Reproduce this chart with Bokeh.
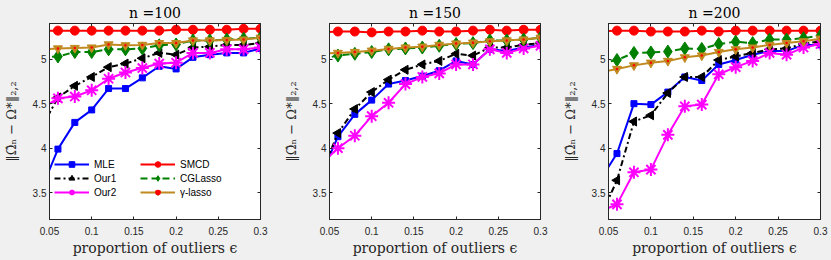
import math
from bokeh.plotting import figure
from bokeh.layouts import row
from bokeh.models import FixedTicker, LinearAxis, Range1d, Legend, LegendItem
from bokeh.embed import file_html
from bokeh.resources import INLINE

# ---------------- data ----------------
eps = [0.04, 0.06, 0.08, 0.10, 0.12, 0.14, 0.16, 0.18, 0.20, 0.22, 0.24, 0.26, 0.28, 0.30]
x_ticks = [0.05, 0.1, 0.15, 0.2, 0.25, 0.3]
x_tick_labels = ["0.05", "0.1", "0.15", "0.2", "0.25", "0.3"]
y_ticks = [3.5, 4, 4.5, 5]
y_tick_labels = ["3.5", "4", "4.5", "5"]
sample_sizes = ["100", "150", "200"]
methods = ["MLE", "Our1", "Our2", "SMCD", "CGLasso", "γ-lasso"]

mle_100 = [3.53, 3.99, 4.29, 4.43, 4.67, 4.67, 4.79, 4.92, 4.89, 5.02, 5.05, 5.07, 5.07, 5.12]
our1_100 = [4.22, 4.57, 4.70, 4.80, 4.91, 4.95, 5.01, 5.07, 5.05, 5.13, 5.14, 5.16, 5.16, 5.18]
our2_100 = [4.44, 4.56, 4.58, 4.65, 4.78, 4.85, 4.90, 4.95, 4.96, 5.07, 5.07, 5.11, 5.11, 5.13]
smcd_100 = [5.32, 5.32, 5.32, 5.32, 5.32, 5.32, 5.32, 5.32, 5.33, 5.33, 5.33, 5.33, 5.34, 5.34]
cgl_100 = [5.02, 5.03, 5.08, 5.08, 5.11, 5.11, 5.12, 5.155, 5.165, 5.21, 5.21, 5.22, 5.23, 5.24]
gam_100 = [5.11, 5.12, 5.125, 5.13, 5.165, 5.155, 5.16, 5.18, 5.18, 5.21, 5.21, 5.215, 5.22, 5.24]

mle_150 = [3.70, 4.13, 4.38, 4.54, 4.72, 4.76, 4.81, 4.87, 4.98, 4.94, 5.11, 5.09, 5.13, 5.16]
our1_150 = [3.71, 4.17, 4.44, 4.63, 4.77, 4.88, 4.94, 4.98, 5.06, 5.04, 5.13, 5.13, 5.16, 5.18]
our2_150 = [3.82, 4.00, 4.14, 4.36, 4.51, 4.72, 4.80, 4.84, 4.94, 4.94, 5.11, 5.07, 5.12, 5.15]
smcd_150 = [5.30, 5.31, 5.31, 5.30, 5.31, 5.31, 5.32, 5.31, 5.31, 5.32, 5.33, 5.32, 5.33, 5.33]
cgl_150 = [5.00, 5.04, 5.06, 5.08, 5.11, 5.12, 5.13, 5.15, 5.17, 5.18, 5.21, 5.21, 5.22, 5.24]
gam_150 = [5.06, 5.07, 5.08, 5.095, 5.115, 5.13, 5.14, 5.16, 5.175, 5.185, 5.20, 5.21, 5.22, 5.24]

mle_200 = [3.64, 3.94, 4.50, 4.49, 4.63, 4.80, 4.76, 4.94, 4.99, 5.05, 5.09, 5.09, 5.16, 5.16]
our1_200 = [3.22, 3.64, 4.30, 4.37, 4.62, 4.80, 4.80, 4.99, 5.03, 5.07, 5.11, 5.12, 5.17, 5.20]
our2_200 = [3.29, 3.37, 3.73, 3.76, 4.15, 4.47, 4.49, 4.83, 4.91, 4.98, 5.07, 5.05, 5.13, 5.17]
smcd_200 = [5.31, 5.32, 5.32, 5.31, 5.31, 5.31, 5.32, 5.31, 5.32, 5.32, 5.32, 5.32, 5.32, 5.32]
cgl_200 = [4.95, 4.99, 5.07, 5.075, 5.085, 5.12, 5.115, 5.17, 5.195, 5.18, 5.22, 5.22, 5.235, 5.265]
gam_200 = [4.85, 4.89, 4.93, 4.96, 4.98, 5.02, 5.04, 5.08, 5.11, 5.13, 5.16, 5.18, 5.20, 5.23]

panel_series = [
    [mle_100, our1_100, our2_100, smcd_100, cgl_100, gam_100],
    [mle_150, our1_150, our2_150, smcd_150, cgl_150, gam_150],
    [mle_200, our1_200, our2_200, smcd_200, cgl_200, gam_200],
]

# ---------------- styles ----------------
AX = "#262626"
styles = {
    "MLE": dict(color="#0000ff", dash="solid", marker="square", size=6, angle=0.0, lw=1),
    "Our1": dict(color="#000000", dash="6 3 2 3", marker="triangle", size=9, angle=math.pi / 2, lw=1),
    "Our2": dict(color="#ff00ff", dash="solid", marker="asterisk", size=13, angle=0.0, lw=2),
    "SMCD": dict(color="#ff0000", dash="solid", marker="circle", size=9, angle=0.0, lw=1),
    "CGLasso": dict(color="#008000", dash="7 4", marker="diamond", size=13, angle=0.0, lw=1),
    "γ-lasso": dict(color="#c08a20", dash="solid", marker="inverted_triangle", size=9, angle=0.0, lw=1),
}

widths = [280, 279, 272]
lefts = [47, 47, 48]
rights = [20, 19, 11]


def style_axis(ax, ticks, labels, show_labels=True):
    ax.ticker = FixedTicker(ticks=ticks, minor_ticks=[])
    ax.major_tick_in = 3
    ax.major_tick_out = 0
    ax.minor_tick_line_color = None
    ax.axis_line_color = AX
    ax.major_tick_line_color = AX
    if show_labels:
        ax.major_label_overrides = {t: l for t, l in zip(ticks, labels)}
        ax.major_label_text_color = AX
        ax.major_label_text_font = "Liberation Sans"
        ax.major_label_text_font_size = "10px"
    else:
        ax.major_label_text_color = None
        ax.major_label_text_font_size = "0px"
        ax.major_label_standoff = 0


plots = []
for i, n in enumerate(sample_sizes):
    p = figure(width=widths[i], height=260,
               x_range=Range1d(0.05, 0.3), y_range=Range1d(3.2, 5.4),
               output_backend="svg", toolbar_location=None,
               min_border_left=lefts[i], min_border_right=rights[i],
               min_border_top=22, min_border_bottom=41)
    p.title.text = "n =" + n
    p.title.text_font = "DejaVu Serif"
    p.title.text_font_style = "normal"
    p.title.text_font_size = "14px"
    p.title.text_color = "#000000"
    p.title.align = "center"
    p.title.standoff = 5
    p.border_fill_color = "#f0f0f0"
    p.background_fill_color = "white"
    p.outline_line_color = AX
    p.outline_line_width = 1
    p.grid.visible = False

    style_axis(p.xaxis[0], x_ticks, x_tick_labels)
    style_axis(p.yaxis[0], y_ticks, y_tick_labels)
    p.xaxis.major_label_standoff = 7
    p.yaxis.major_label_standoff = 3
    p.xaxis.axis_label = "proportion of outliers ϵ"
    p.yaxis.axis_label = "‖Ω̂ₙ − Ω*‖₂,₂"
    for ax in (p.xaxis[0], p.yaxis[0]):
        ax.axis_label_text_font = "DejaVu Serif"
        ax.axis_label_text_font_style = "normal"
        ax.axis_label_text_color = AX
    p.xaxis.axis_label_text_font_size = "14px"
    p.yaxis.axis_label_text_font_size = "13px"
    p.xaxis.axis_label_standoff = 2
    p.yaxis.axis_label_standoff = 11

    top = LinearAxis()
    style_axis(top, x_ticks, x_tick_labels, show_labels=False)
    p.add_layout(top, "above")
    rgt = LinearAxis()
    style_axis(rgt, y_ticks, y_tick_labels, show_labels=False)
    p.add_layout(rgt, "right")

    items = []
    for m, vals in zip(methods, panel_series[i]):
        s = styles[m]
        rl = p.line(eps, vals, line_color=s["color"], line_width=2,
                    line_dash=s["dash"], line_join="round")
        rm = p.scatter(eps, vals, marker=s["marker"], size=s["size"], angle=s["angle"],
                       fill_color=s["color"], line_color=s["color"], line_width=s["lw"])
        rs = [rl, rm]
        if m == "γ-lasso":
            rd = p.scatter(eps, vals, marker="circle", size=2.5,
                           fill_color="#ff0000", line_color="#ff0000", line_width=0)
            rs.append(rd)
        items.append(LegendItem(label=m, renderers=rs))

    if i == 0:
        leg = Legend(items=items, location=(5, 20), nrows=3,
                     padding=0, margin=0, spacing=0,
                     glyph_height=14, glyph_width=35, label_height=14,
                     label_standoff=5, label_width=46,
                     border_line_color=None, background_fill_alpha=0,
                     label_text_font="Liberation Sans", label_text_font_size="10px",
                     label_text_color="#000000")
        p.add_layout(leg)

    plots.append(p)

layout = row(*plots)
html = file_html(layout, INLINE, title="plot")
html = html.replace("<head>", "<head><style>html,body{margin:0;padding:0;background:#f0f0f0;}</style>", 1)
open("out.html", "w").write(html)
